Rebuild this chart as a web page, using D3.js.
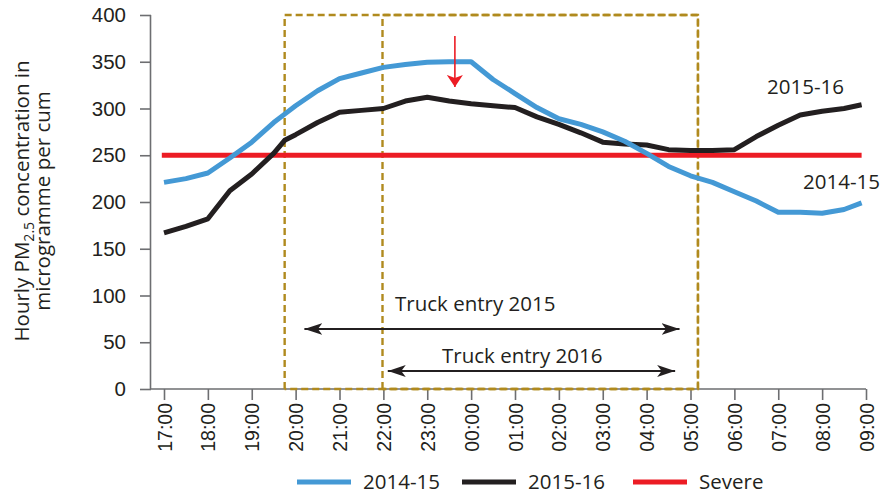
<!DOCTYPE html>
<html>
<head>
<meta charset="utf-8">
<script src="https://cdn.jsdelivr.net/npm/d3@7"></script>
<style>
  html, body { margin: 0; padding: 0; background: #fff; }
  svg { display: block; font-family: "Open Sans", "Noto Sans", sans-serif; }
</style>
</head>
<body>
<svg id="chart" width="880" height="494"></svg>
<script>
// Hours after 17:00 at which readings are plotted (half-hourly)
const hours = [0, 0.5, 1, 1.5, 2, 2.5, 2.75, 3, 3.5, 4, 4.5, 5, 5.5, 6, 6.5, 7, 7.5, 8, 8.5,
               9, 9.5, 10, 10.5, 11, 11.5, 12, 12.5, 13, 13.5, 14, 14.5, 15, 15.5, 15.9];

// Hourly PM2.5 (µg/m³)
const pm2014 = [221, 225, 231, 247, 264, 285, 294, 303, 319, 332, 338, 344, 347, 349.5, 350, 350, 331, 316, 301,
                289, 283, 275, 265, 252, 238, 228, 221, 211, 201, 189, 189, 188, 192, 199];
const pm2015 = [167, 174, 182, 212, 230, 252, 266, 272, 285, 296, 298, 300, 308, 312, 308, 305, 303, 301, 291,
                283, 274, 264, 262, 261, 256, 255, 255, 256, 270, 282, 293, 297, 300, 304];

const severeLevel = 250;

const tickLabels = ["17:00", "18:00", "19:00", "20:00", "21:00", "22:00", "23:00", "00:00", "01:00",
                    "02:00", "03:00", "04:00", "05:00", "06:00", "07:00", "08:00", "09:00"];
const yTicks = [0, 50, 100, 150, 200, 250, 300, 350, 400];

// Truck entry windows (hours after 17:00)
const window2015 = [2.75, 12.17];
const window2016 = [4.98, 12.17];
const arrow2015 = [3.2, 11.75];
const arrow2016 = [5.1, 11.65];
const markerHour = 6.63;

const colors = { y2014: "#4499d5", y2015: "#231f20", severe: "#ec1c24", box: "#b08a1e", axis: "#6d6e71", text: "#231f20" };

const svg = d3.select("#chart");
const x = d3.scaleLinear().domain([0, 16]).range([164, 866]);
const y = d3.scaleLinear().domain([0, 400]).range([389, 15]);

const defs = svg.append("defs");
function arrowMarker(id, color, w, h) {
  defs.append("marker")
    .attr("id", id).attr("viewBox", `0 0 ${w} ${h}`)
    .attr("refX", w).attr("refY", h / 2)
    .attr("markerWidth", w).attr("markerHeight", h)
    .attr("markerUnits", "userSpaceOnUse")
    .attr("orient", "auto-start-reverse")
    .append("path").attr("d", `M0,0L${w},${h / 2}L0,${h}L${w * 0.25},${h / 2}Z`).attr("fill", color);
}
arrowMarker("arrBlack", colors.text, 18, 12);
arrowMarker("arrRed", colors.severe, 12, 16);

// Axes
const yAxis = d3.axisLeft(y).tickValues(yTicks).tickSize(11).tickPadding(14);
const gy = svg.append("g").attr("transform", `translate(151,0)`).call(yAxis);
gy.select(".domain").attr("d", `M-0.5,${y(0)}V${y(400)}`);

const xAxis = d3.axisBottom(x).tickValues(d3.range(17)).tickSize(11).tickFormat(i => tickLabels[i]);
const gx = svg.append("g").attr("transform", `translate(0,${y(0)})`).call(xAxis);
gx.select(".domain").attr("d", `M151,0H${x(16)}`);
gx.selectAll(".tick text")
  .attr("transform", "rotate(-90)")
  .attr("x", -14).attr("y", 0).attr("dy", "0.36em")
  .style("text-anchor", "end");

[gx, gy].forEach(g => {
  g.selectAll(".domain, .tick line").attr("stroke", colors.axis).attr("stroke-width", 1.6);
  g.selectAll(".tick text").attr("fill", colors.text).attr("font-family", null);
});
gx.selectAll(".tick text").style("font-size", "19.5px");
gy.selectAll(".tick text").style("font-size", "20.5px");

// Truck entry windows
[window2015, window2016].forEach(w => {
  svg.append("path")
    .attr("d", `M${x(w[0])},${y(0)}V${y(400)}H${x(w[1])}V${y(0)}H${x(w[0])}`)
    .attr("fill", "none").attr("stroke", colors.box).attr("stroke-width", 2.4)
    .attr("stroke-dasharray", "7,4");
});

// Severe threshold
svg.append("line")
  .attr("x1", x(-0.05)).attr("x2", x(15.9))
  .attr("y1", y(severeLevel)).attr("y2", y(severeLevel))
  .attr("stroke", colors.severe).attr("stroke-width", 5);

// Series
const line = d3.line().x((d, i) => x(hours[i])).y(d => y(d)).curve(d3.curveLinear);
svg.append("path").datum(pm2015).attr("d", line)
  .attr("fill", "none").attr("stroke", colors.y2015).attr("stroke-width", 5).attr("stroke-linejoin", "round");
svg.append("path").datum(pm2014).attr("d", line)
  .attr("fill", "none").attr("stroke", colors.y2014).attr("stroke-width", 5).attr("stroke-linejoin", "round");

// Peak marker arrow
svg.append("line")
  .attr("x1", x(markerHour)).attr("x2", x(markerHour))
  .attr("y1", 36).attr("y2", 87)
  .attr("stroke", colors.severe).attr("stroke-width", 1.6)
  .attr("marker-end", "url(#arrRed)");

// Truck entry arrows and labels
function doubleArrow(span, yPix) {
  svg.append("line")
    .attr("x1", x(span[0])).attr("x2", x(span[1]))
    .attr("y1", yPix).attr("y2", yPix)
    .attr("stroke", colors.text).attr("stroke-width", 2)
    .attr("marker-start", "url(#arrBlack)").attr("marker-end", "url(#arrBlack)");
}
doubleArrow(arrow2015, 329);
doubleArrow(arrow2016, 371);

const textStyle = sel => sel.attr("fill", colors.text).style("font-size", "20.5px");
svg.append("text").attr("x", 395).attr("y", 311).text("Truck entry 2015").call(textStyle);
svg.append("text").attr("x", 442).attr("y", 363).text("Truck entry 2016").call(textStyle);

// Series labels
svg.append("text").attr("x", 767).attr("y", 94).text("2015-16").call(textStyle);
svg.append("text").attr("x", 803).attr("y", 189).text("2014-15").call(textStyle);

// Y axis title
const yt = svg.append("text").attr("transform", "translate(0,201) rotate(-90)")
  .attr("text-anchor", "middle").call(textStyle);
yt.append("tspan").attr("x", 0).attr("y", 29).text("Hourly PM");
yt.append("tspan").attr("dy", 5).style("font-size", "14px").text("2.5");
yt.append("tspan").attr("dy", -5).text(" concentration in");
svg.append("text").attr("transform", "translate(0,201) rotate(-90)")
  .attr("text-anchor", "middle").attr("x", 0).attr("y", 50)
  .text("microgramme per cum").call(textStyle);

// Legend
const legend = [
  { label: "2014-15", color: colors.y2014, x0: 297 },
  { label: "2015-16", color: colors.y2015, x0: 462 },
  { label: "Severe", color: colors.severe, x0: 633 }
];
const lg = svg.append("g");
legend.forEach(d => {
  lg.append("line").attr("x1", d.x0).attr("x2", d.x0 + 54).attr("y1", 482).attr("y2", 482)
    .attr("stroke", d.color).attr("stroke-width", 5);
  lg.append("text").attr("x", d.x0 + 66).attr("y", 489).text(d.label).call(textStyle);
});
</script>
</body>
</html>
